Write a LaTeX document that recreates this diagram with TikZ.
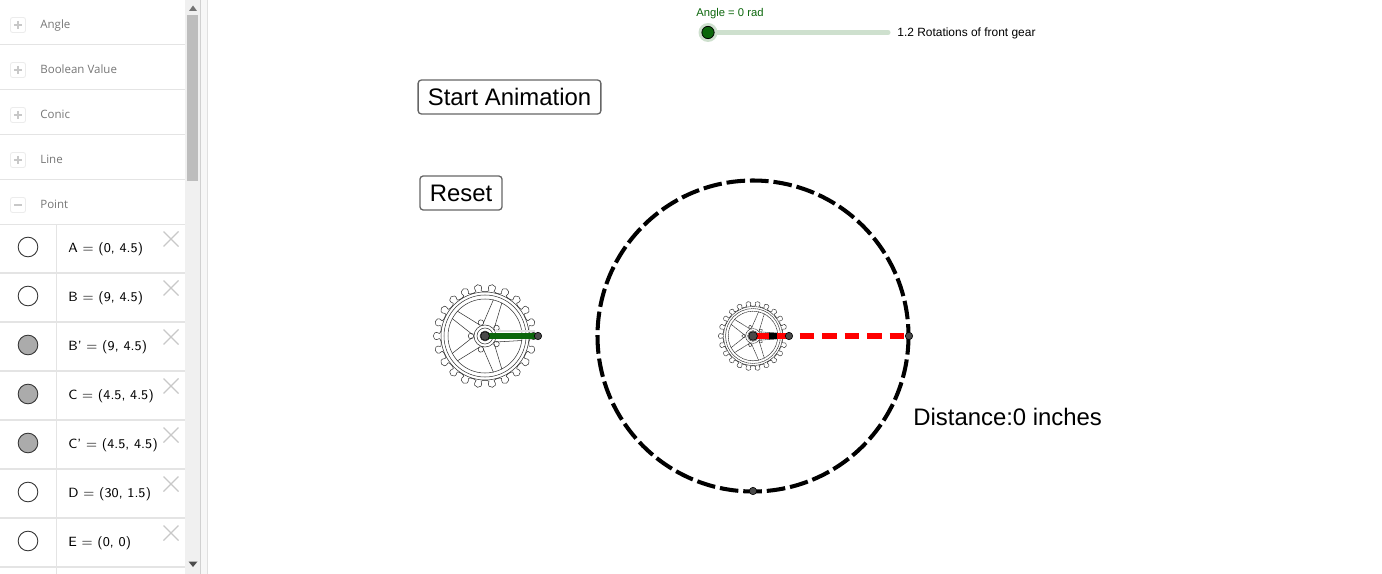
\documentclass[tikz,border=0pt]{standalone}
\usepackage{fontspec}
\setmainfont{Liberation Sans}
\newfontfamily\listfont{Open Sans}
\usetikzlibrary{positioning, calc}
\definecolor{sepgrey}{HTML}{E4E4E4}
\definecolor{scrollgrey}{HTML}{F0F0F0}
\definecolor{thumbgrey}{HTML}{BDBDBD}
\definecolor{crossgrey}{HTML}{C8C8C8}
\definecolor{groupgrey}{HTML}{767676}
\definecolor{hiddengrey}{HTML}{ABABAB}
\definecolor{crank}{HTML}{0B660B}
\definecolor{track}{HTML}{CEE0CE}
\definecolor{ptgrey}{HTML}{4A4A4A}
\tikzset{
  sep/.style={draw=sepgrey,line width=.7pt},
  grouplabel/.style={anchor=base west,inner sep=0pt,text=groupgrey,font=\listfont\fontsize{6.55}{8}\selectfont},
  itemlabel/.style={anchor=base west,inner sep=0pt,font=\sffamily\fontsize{7.6}{9}\selectfont},
  visdot/.style={circle,draw=black!80,line width=.5pt,minimum size=11.2pt,inner sep=0pt},
  crossmark/.style={draw=crossgrey,line width=.75pt},
  groupbox/.style={draw=sepgrey!70,line width=.5pt,rounded corners=1.2pt},
  groupsign/.style={draw=crossgrey,line width=.8pt},
  ptmark/.style={circle,fill=ptgrey,draw=black,line width=.35pt,minimum size=#1,inner sep=0pt},
  ptmark/.default=5pt,
  appbutton/.style={draw=black!60,line width=.75pt,rounded corners=1.8pt,inner sep=0pt,
    font=\fontsize{13.6}{16}\selectfont},
  bigtext/.style={anchor=west,inner sep=0pt,font=\fontsize{13.6}{16}\selectfont},
  slidertext/.style={anchor=west,inner sep=0pt,font=\fontsize{6.4}{8}\selectfont},
  gearline/.style={line width=.3pt,draw=black!80},
  gear/.pic={
    % teeth
    \foreach \t in {0,...,21}{
      \pgfmathsetmacro\a{\t*360/22}
      \draw[gearline] (\a-3.2:45.5) .. controls (\a-8:54.5) and (\a+8:54.5) .. (\a+3.2:45.5)
        .. controls (\a+5:44) and (\a+11.4:44) .. (\a+13.16:45.5);
    }
    % rim and hub
    \foreach \r in {44,41,37,11,8,5}{
      \draw[gearline] (0,0) circle (\r);
    }
    % five spokes
    \foreach \a in {-70,0,70,145,215}{
      \draw[gearline,rotate=\a] (11,-6) -- (37,-4.5) (11,6) -- (37,4.5);
    }
    \foreach \a in {-35,35,107,180,253}{
      \draw[gearline,rotate=\a] (14,0) circle (2.8);
    }
  },
}
\begin{document}
\begin{tikzpicture}[x=.02cm,y=-.02cm]
\useasboundingbox (0,0) rectangle (1382,574);

% side panel
\fill[scrollgrey] (185,0) rectangle (200,574);
\fill[black!3] (201,0) rectangle (207,574);
\draw[draw=black!18,line width=.6pt] (200.5,0) -- (200.5,574);
\draw[draw=black!12,line width=.6pt] (207.5,0) -- (207.5,574);
\fill[thumbgrey] (187,15) rectangle (198,181);
\fill[black!55] (189,11) -- (193,5.5) -- (197,11) -- cycle;
\fill[black!70] (188.5,561.5) -- (197.5,561.5) -- (193,567) -- cycle;

\foreach \y/\lab/\nm in {25/Angle/angle,70/Boolean Value/bool,115/Conic/conic,160/Line/line,205/Point/point}{
  \draw[groupbox] (10.5,\y-7.5) rectangle (25.5,\y+7.5);
  \draw[groupsign] (14,\y) -- (22,\y);
  \node[grouplabel] (\nm) at (40,\y+3.3) {\lab};
  \draw[sep] (0,\y+19.5) -- (185,\y+19.5);
}
\foreach \y in {25,70,115,160}{
  \draw[groupsign] (18,\y-4) -- (18,\y+4);
}

\draw[sep] (56.5,224.5) -- (56.5,574);
\foreach \y/\lab/\col/\nm in {
  247/{A = (0, 4.5)}/white/A,
  296/{B = (9, 4.5)}/white/B,
  345/{B' = (9, 4.5)}/hiddengrey/Bp,
  394/{C = (4.5, 4.5)}/hiddengrey/C,
  443/{C' = (4.5, 4.5)}/hiddengrey/Cp,
  492/{D = (30, 1.5)}/white/D,
  541/{E = (0, 0)}/white/E}{
  \node[visdot,fill=\col] (dot\nm) at (28,\y) {};
  \node[itemlabel] (item\nm) at (68,\y+5.5) {\lab};
  \draw[crossmark] (163.5,\y-15.5) -- (178.5,\y-0.5) (178.5,\y-15.5) -- (163.5,\y-0.5);
  \draw[sep] (0,\y+26) -- (185,\y+26);
}

% slider
\coordinate (slideA) at (708,32.5);
\coordinate (slideB) at (888,32.5);
\draw[track,line width=2.9pt,line cap=round] (slideA) -- (slideB);
\fill[track] (slideA) circle (9.5);
\node[circle,fill=crank,draw=black,line width=.45pt,minimum size=7pt,inner sep=0pt] (knob) at (slideA) {};
\node[slidertext,text=crank] (anglelabel) at (696,14) {Angle = 0 rad};
\node[slidertext,font=\fontsize{6.8}{8}\selectfont] (rotlabel) at (897,33) {1.2 Rotations of front gear};

% buttons
\node[appbutton,minimum width=104pt,minimum height=19.3pt] (start) at (509.5,97) {Start Animation};
\node[appbutton,minimum width=46.7pt,minimum height=19.3pt] (reset) at (461,193) {Reset};

% gears
\pic at (485,336) {gear};
\pic[scale=.67,dash pattern=on .9pt off .25pt] at (753,336) {gear};

% wheel
\coordinate (frontC) at (485,336);
\coordinate (frontP) at (538,336);
\coordinate (wheelC) at (753,336);
\coordinate (backP) at (789,336);
\coordinate (rimP) at (909,336);
\coordinate (rimB) at (753,491);
\draw[line width=2.3pt,dash pattern=on 10.6pt off 2.8pt] (wheelC) circle (155.5);
\draw[black!12,line width=1pt] (frontC) ++(10,-5) -- ++(40,0);
\draw[crank,line width=3.3pt] (frontC) -- (frontP);
\draw[black,line width=3.3pt] (wheelC) -- (backP);
\draw[red,line width=3.3pt,dash pattern=on 8.3pt off 4.5pt,dash phase=-1pt] (wheelC) -- (rimP);
\node[ptmark] (frontCpt) at (frontC) {};
\node[ptmark=4.2pt] (frontPpt) at (frontP) {};
\node[ptmark] (wheelCpt) at (wheelC) {};
\node[ptmark=4.2pt] (backPpt) at (backP) {};
\node[ptmark=4.2pt] (rimPpt) at (rimP) {};
\node[ptmark=4.2pt] (rimBpt) at (rimB) {};

\node[bigtext] (dist) at (913,417) {Distance:0 inches};

\end{tikzpicture}
\end{document}
